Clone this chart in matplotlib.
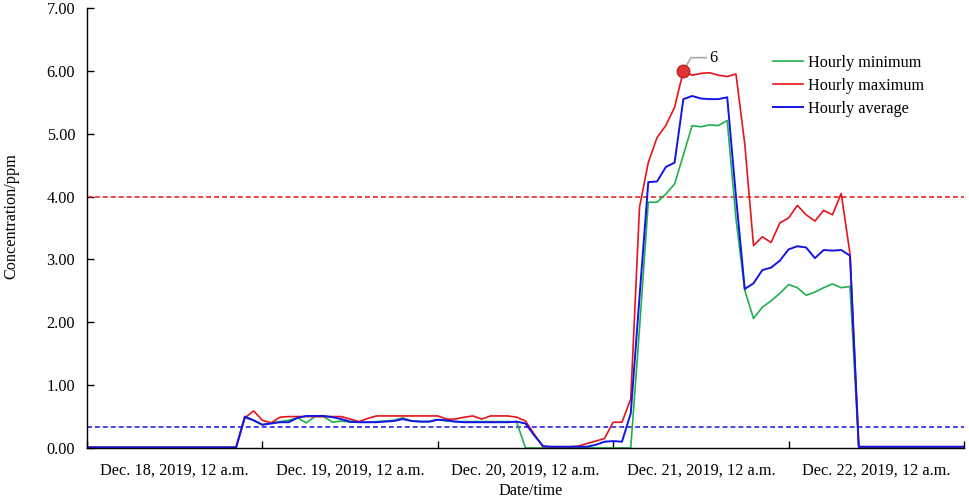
import numpy as np
import matplotlib
matplotlib.use("Agg")
import matplotlib.pyplot as plt

plt.rcParams['font.family'] = ['Liberation Serif', 'DejaVu Serif']

# readings every 1.2 h, from Dec. 18, 2019, 12 a.m.
step_h = 1.2

hourly_min = [0.01] * 18 + [
    0.48, 0.44, 0.37, 0.40, 0.42, 0.44, 0.48, 0.40, 0.50, 0.50, 0.41, 0.43, 0.41, 0.41, 0.41, 0.42,
    0.43, 0.44, 0.48, 0.43, 0.42, 0.42, 0.45,
    0.43, 0.42, 0.42, 0.42, 0.42, 0.42, 0.42, 0.42, 0.41, 0.00,
    0.00, 0.00, 0.00, 0.00, 0.00, 0.00, 0.00, 0.00, 0.00, 0.00, 0.00, 0.00,
    1.90, 3.91, 3.91, 4.04, 4.20, 4.66, 5.13, 5.11, 5.14, 5.13, 5.21, 3.65,
    2.51, 2.06, 2.24, 2.34, 2.46, 2.60, 2.55, 2.43, 2.48, 2.55, 2.61, 2.55, 2.57, 0.00,
] + [0.01] * 12

hourly_max = [0.01] * 18 + [
    0.48, 0.59, 0.44, 0.40, 0.49, 0.50, 0.50, 0.50, 0.50, 0.50, 0.50, 0.50, 0.46, 0.42, 0.47, 0.51,
    0.51, 0.51, 0.51, 0.51, 0.51, 0.51, 0.51,
    0.46, 0.46, 0.49, 0.51, 0.46, 0.51, 0.51, 0.51, 0.49, 0.43,
    0.22, 0.02, 0.02, 0.02, 0.02, 0.03, 0.07, 0.11, 0.15, 0.41, 0.41, 0.78,
    3.83, 4.54, 4.94, 5.13, 5.42, 6.00, 5.93, 5.96, 5.97, 5.93, 5.91, 5.95,
    4.84, 3.22, 3.36, 3.27, 3.58, 3.66, 3.86, 3.71, 3.61, 3.78, 3.71, 4.05, 3.09, 0.02,
] + [0.02] * 12

hourly_avg = [0.01] * 18 + [
    0.50, 0.44, 0.37, 0.39, 0.41, 0.41, 0.48, 0.51, 0.51, 0.51, 0.49, 0.46, 0.42, 0.41, 0.41, 0.41,
    0.42, 0.43, 0.46, 0.43, 0.42, 0.42, 0.45,
    0.44, 0.42, 0.41, 0.41, 0.41, 0.41, 0.41, 0.41, 0.42, 0.39,
    0.20, 0.03, 0.02, 0.02, 0.02, 0.02, 0.02, 0.05, 0.10, 0.11, 0.10, 0.55,
    2.40, 4.23, 4.24, 4.47, 4.54, 5.55, 5.60, 5.56, 5.55, 5.55, 5.58, 4.00,
    2.53, 2.62, 2.83, 2.87, 2.98, 3.16, 3.21, 3.19, 3.02, 3.15, 3.14, 3.15, 3.06, 0.02,
] + [0.02] * 12

limit_high = 4.00
limit_low = 0.33
peak_index = 68

day_labels = ['Dec. 18, 2019, 12 a.m.', 'Dec. 19, 2019, 12 a.m.', 'Dec. 20, 2019, 12 a.m.',
              'Dec. 21, 2019, 12 a.m.', 'Dec. 22, 2019, 12 a.m.']

green = '#1fb04b'
red = '#e4141b'
blue = '#1414e6'
fs = 11.7

hours = np.arange(len(hourly_avg)) * step_h

fig = plt.figure(figsize=(9.69, 5.01), dpi=100)
ax = fig.add_axes([87 / 969, 53 / 501, 877 / 969, 440 / 501])

ax.axhline(limit_high, color=red, lw=1.1, ls=(0, (3.2, 2)))
ax.axhline(limit_low, color=blue, lw=1.1, ls=(0, (3.2, 2)))

ax.plot(hours, hourly_min, color=green, lw=1.2, label='Hourly minimum')
ax.plot(hours, hourly_max, color=red, lw=1.2, label='Hourly maximum')
ax.plot(hours, hourly_avg, color=blue, lw=1.4, label='Hourly average')

# peak marker
px, py = hours[peak_index], hourly_max[peak_index]
ax.plot(px, py, 'o', ms=9, color='#e23434', mec='#c02020', zorder=6)
ax.annotate('6', xy=(px, py), xytext=(21.5, 9.5), textcoords='offset points',
            ha='center', va='center', fontsize=fs,
            arrowprops=dict(arrowstyle='-', color='#a8a8a8', lw=1.2, shrinkA=0, shrinkB=0,
                            connectionstyle='angle,angleA=180,angleB=60'))

ax.set_xlim(0, 120)
ax.set_ylim(0, 7)
ax.set_xticks(np.arange(0, 121, 24))
ax.set_xticklabels([])
ax.set_xticks(np.arange(12, 120, 24), minor=True)
ax.set_xticklabels(day_labels, minor=True)
ax.tick_params(axis='x', which='major', direction='in', length=5, width=1)
ax.tick_params(axis='x', which='minor', length=0, pad=10.5, labelsize=fs)
ax.set_yticks(np.arange(0, 8, 1))
ax.set_yticklabels([f'{v:.2f}' for v in np.arange(0, 8, 1)])
ax.tick_params(axis='y', direction='in', length=5, width=1, pad=8.5, labelsize=fs)

for side in ['top', 'right']:
    ax.spines[side].set_visible(False)
for side in ['left', 'bottom']:
    ax.spines[side].set_linewidth(1.0)

ax.set_xlabel('Date/time', fontsize=fs, va='center')
ax.xaxis.set_label_coords(0.506, -0.098)
ax.set_ylabel('Concentration/ppm', fontsize=fs)
ax.yaxis.set_label_coords(-0.077, 0.527)

ax.legend(loc='upper left', bbox_to_anchor=(773 / 969, 1 - 55 / 501),
          bbox_transform=fig.transFigure, frameon=False, fontsize=fs,
          borderpad=0, borderaxespad=0, handlelength=1.85, handletextpad=0.3,
          labelspacing=0.42)

fig.savefig('out.png', dpi=100)
